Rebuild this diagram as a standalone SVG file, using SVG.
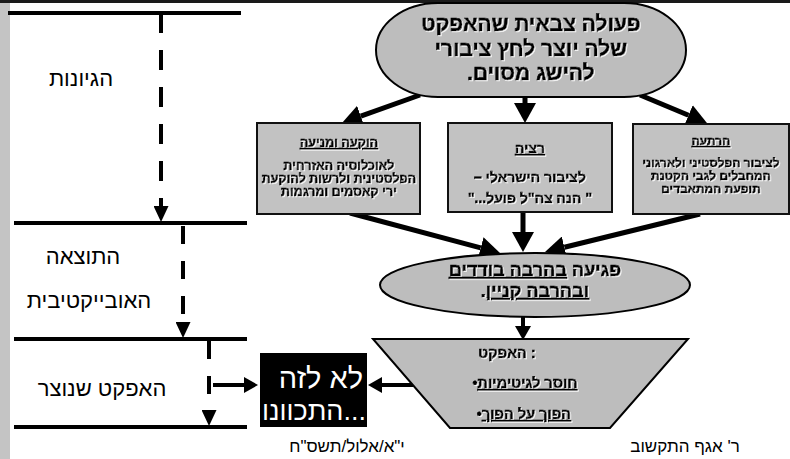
<svg xmlns="http://www.w3.org/2000/svg" width="790" height="459" viewBox="0 0 790 459">
<defs>
<marker id="head" markerUnits="userSpaceOnUse" markerWidth="20" markerHeight="22" refX="0" refY="11" orient="auto"><path d="M0,0 L20,11 L0,22 z" fill="#000"/></marker>
<marker id="headS" markerUnits="userSpaceOnUse" markerWidth="14" markerHeight="16" refX="0" refY="8" orient="auto"><path d="M0,0 L14,8 L0,16 z" fill="#000"/></marker>
<marker id="headD" markerUnits="userSpaceOnUse" markerWidth="16" markerHeight="15" refX="0" refY="7.5" orient="auto"><path d="M0,0 L16,7.5 L0,15 z" fill="#000"/></marker>
<filter id="halo" x="-5%" y="-20%" width="110%" height="140%"><feDropShadow dx="1" dy="1" stdDeviation="0.4" flood-color="#ffffff" flood-opacity="0.9"/></filter>
</defs>
<style>
text{font-family:"Liberation Sans","DejaVu Sans",sans-serif;fill:#000}
.rtl{direction:rtl;text-anchor:middle}
.ltr{direction:ltr}
.b{font-weight:bold;stroke:#000;stroke-width:0.6;paint-order:stroke}
.sh{filter:url(#halo)}
.u{text-decoration:underline}
.shape{fill:#bdbdbd;stroke:#000;stroke-width:2}
.box{fill:#c2c2c2;stroke:#111;stroke-width:2}
.flow{stroke:#000;stroke-width:5;fill:none}
.flowS{stroke:#000;stroke-width:4;fill:none}
.dash{stroke:#000;stroke-width:4;fill:none}
.rule{stroke:#000;stroke-width:4}
.lbl{font-size:22px}
.foot{font-size:17px}
</style>
<rect x="0" y="0" width="790" height="459" fill="#fff"/>
<rect x="0" y="0" width="10" height="459" fill="#c4c4c4"/>
<rect x="0" y="0" width="790" height="3" fill="#1a1a1a"/>

<g id="rules">
<line class="rule" x1="8" y1="13" x2="241" y2="13"/>
<line class="rule" x1="14" y1="223" x2="247" y2="223"/>
<line class="rule" x1="14" y1="339" x2="247" y2="339"/>
<line class="rule" x1="14" y1="427" x2="247" y2="427"/>
</g>

<g id="connectors">
<path class="dash" d="M161,13 V206" stroke-dasharray="20 17" marker-end="url(#headD)"/>
<path class="dash" d="M183,226 V322" stroke-dasharray="18 17" marker-end="url(#headD)"/>
<path class="dash" d="M209,341 V410" stroke-dasharray="18 17" marker-end="url(#headD)"/>
<path class="flowS" d="M213,385 H244" marker-end="url(#headS)"/>
<path class="flow" d="M420,95 L360.8,116.2" marker-end="url(#head)"/>
<path class="flow" d="M525,97 V103" marker-end="url(#head)"/>
<path class="flow" d="M640,95 L688.5,115.3" marker-end="url(#head)"/>
<path class="flow" d="M350,213 L480.7,247.8" marker-end="url(#head)"/>
<path class="flow" d="M523,212 V232" marker-end="url(#head)"/>
<path class="flow" d="M700,214 L564.4,247.2" marker-end="url(#head)"/>
<path class="flowS" d="M523,317 V326" marker-end="url(#headS)"/>
<path class="flowS" d="M413,385 H382" marker-end="url(#headS)"/>
</g>

<g id="label-reasoning"><text class="rtl lbl" x="81" y="86">הגיונות</text></g>
<g id="label-objective"><text class="rtl lbl" x="83" y="264">התוצאה</text><text class="rtl lbl" x="89" y="308">האובייקטיבית</text></g>
<g id="label-effect"><text class="rtl lbl" x="102" y="396">האפקט שנוצר</text></g>

<g id="node-action">
<rect class="shape" x="376" y="3" width="310" height="94" rx="62" ry="47"/>
<text class="rtl b sh" font-size="21" x="531" y="31">פעולה צבאית שהאפקט</text>
<text class="rtl b sh" font-size="21" x="531" y="56">שלה יוצר לחץ ציבורי</text>
<text class="rtl b sh" font-size="21" x="531" y="80">להישג מסוים.</text>
</g>

<g id="node-denounce">
<rect class="box" x="257" y="123" width="163" height="91"/>
<text class="rtl b sh u" font-size="12.5" x="339" y="147">הוקעה ומניעה</text>
<text class="rtl b sh" font-size="12.5" x="339" y="170">לאוכלוסיה האזרחית</text>
<text class="rtl b sh" font-size="12.5" x="339" y="183">הפלסטינית ולרשות להוקעת</text>
<text class="rtl b sh" font-size="12.5" x="339" y="196">ירי קאסמים ומרגמות</text>
</g>

<g id="node-appease">
<rect class="box" x="448" y="123" width="164" height="89"/>
<text class="rtl b sh u" font-size="14" x="530" y="153">רציה</text>
<text class="rtl b sh" font-size="14" x="530" y="182">לציבור הישראלי –</text>
<text class="rtl b sh" font-size="14" x="530" y="203">" הנה צה"ל פועל..."</text>
</g>

<g id="node-deter">
<rect class="box" x="633" y="124" width="156" height="90"/>
<text class="rtl b sh u" font-size="12" x="711" y="145">הרתעה</text>
<text class="rtl b sh" font-size="12" x="711" y="167">לציבור הפלסטיני ולארגוני</text>
<text class="rtl b sh" font-size="12" x="711" y="180">המחבלים לגבי הקטנת</text>
<text class="rtl b sh" font-size="12" x="711" y="193">תופעת המתאבדים</text>
</g>

<g id="node-harm">
<ellipse class="shape" cx="535" cy="285" rx="155" ry="32"/>
<text class="rtl b sh" font-size="18" x="535" y="276">פגיעה <tspan class="u">בהרבה בודדים</tspan></text>
<text class="rtl b sh" font-size="18" x="535" y="297"><tspan class="u">ובהרבה קניין</tspan>.</text>
</g>

<g id="node-effect">
<polygon class="shape" points="373,339 688,339 610,428 450,428"/>
<text class="ltr b sh" font-size="14.5" x="507" y="358" text-anchor="middle">האפקט :</text>
<text class="rtl b sh" font-size="14.5" x="525" y="388"><tspan class="u">חוסר לגיטימיות</tspan>•</text>
<text class="rtl b sh" font-size="14.5" x="524" y="419"><tspan class="u">הפוך על הפוך</tspan>•</text>
</g>

<g id="node-unintended">
<rect x="260" y="353" width="107" height="74" fill="#000"/>
<text class="ltr" font-size="29" x="363" y="388" text-anchor="end" style="fill:#fff">לא לזה</text>
<text class="ltr" font-size="27" x="366" y="420" text-anchor="end" style="fill:#fff">התכוונו...</text>
</g>

<g id="footer">
<text class="rtl foot" x="347" y="452">י"א/אלול/תשס"ח</text>
<text class="rtl foot" x="685" y="452">ר' אגף התקשוב</text>
</g>
</svg>
